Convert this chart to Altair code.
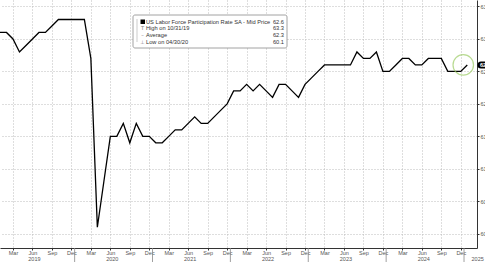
import altair as alt
import pandas as pd

# ---- data (monthly, Jan 2019 .. Jan 2025) ----
years_list = [2019, 2020, 2021, 2022, 2023, 2024, 2025]
month_names = ["Jan", "Feb", "Mar", "Apr", "May", "Jun", "Jul", "Aug", "Sep", "Oct", "Nov", "Dec"]
months = [f"{y}-{m:02d}" for y in years_list[:-1] for m in range(1, 13)] + ["2025-01"]

values = [
    63.1, 63.1, 63.0, 62.8, 62.9, 63.0, 63.1, 63.1, 63.2, 63.3, 63.3, 63.3,   # 2019
    63.3, 63.3, 62.7, 60.1, 60.8, 61.5, 61.5, 61.7, 61.4, 61.7, 61.5, 61.5,   # 2020
    61.4, 61.4, 61.5, 61.6, 61.6, 61.7, 61.8, 61.7, 61.7, 61.8, 61.9, 62.0,   # 2021
    62.2, 62.2, 62.3, 62.2, 62.3, 62.2, 62.1, 62.3, 62.3, 62.2, 62.1, 62.3,   # 2022
    62.4, 62.5, 62.6, 62.6, 62.6, 62.6, 62.6, 62.8, 62.7, 62.7, 62.8, 62.5,   # 2023
    62.5, 62.6, 62.7, 62.7, 62.6, 62.6, 62.7, 62.7, 62.7, 62.5, 62.5, 62.5,   # 2024
    62.6,                                                                     # 2025
]

y_ticks = [60.0, 60.5, 61.0, 61.5, 62.0, 62.5, 63.0, 63.5]
x_tick_months = ["Mar", "Jun", "Sep", "Dec"]
series_name = "US Labor Force Participation Rate SA - Mid Price"

# ---- derived tables ----
df = pd.DataFrame({"month": months, "idx": list(range(len(months))), "value": values})
x_tick_vals = [i for i, m in enumerate(months) if month_names[int(m[5:]) - 1] in x_tick_months]


def month_end_label(m):
    ts = pd.Timestamp(m + "-01") + pd.offsets.MonthEnd(0)
    return ts.strftime("%m/%d/%y")


imax = int(pd.Series(values).idxmax())
imin = int(pd.Series(values).idxmin())
legend_labels = [series_name, f"High on {month_end_label(months[imax])}", "Average",
                 f"Low on {month_end_label(months[imin])}"]
legend_values = [f"{values[-1]:.1f}", f"{max(values):.1f}",
                 f"{sum(values) / len(values):.1f}", f"{min(values):.1f}"]
legend_icons = ["", "T", "–", "⊥"]
legend_df = pd.DataFrame({"label": legend_labels, "val": legend_values, "icon": legend_icons,
                          "row": [0, 1, 2, 3]})

year_labels = [str(y) for y in years_list]
year_df = pd.DataFrame({"year": year_labels,
                        "idx": [months.index(f"{y}-01") + 5.3 if y < 2025 else len(months) + 0.6
                                for y in years_list]})
sep_df = pd.DataFrame({"idx": [months.index(f"{y}-01") - 0.5 for y in years_list[1:]]})
last_df = df.tail(1)

W, H = 477, 248
FONT = "Liberation Sans"

xscale = alt.Scale(domain=[0, len(months) + 0.5], nice=False, zero=False)
yscale = alt.Scale(domain=[59.78, 63.6], nice=False, zero=False)

label_expr = "[" + ",".join(f"'{m}'" for m in month_names) + "][datum.value % 12]"

x_axis = alt.Axis(values=x_tick_vals, labelExpr=label_expr, grid=True,
                  gridDash=[1, 2], gridColor="#b5b5b5", gridWidth=0.9,
                  domainColor="#333", tickColor="#333", tickSize=2,
                  labelFontSize=5.5, labelColor="#555", labelPadding=0,
                  labelFont=FONT, labelFlush=False, labelOverlap=False,
                  labelSeparation=0, title=None)
y_axis = alt.Axis(orient="right", values=y_ticks, format=".1f", grid=True,
                  gridDash=[1, 2], gridColor="#b5b5b5", gridWidth=0.9,
                  domainColor="#333", tickColor="#333", tickSize=2,
                  labelFontSize=5.5, labelColor="#555", labelPadding=1,
                  labelFont=FONT, labelOverlap=False, labelFlush=False,
                  labelSeparation=0, title=None)

xs = alt.X("idx:Q", scale=xscale, axis=x_axis, title=None)
ys = alt.Y("value:Q", scale=yscale, axis=y_axis, title=None)

line = alt.Chart(df).mark_line(color="black", strokeWidth=1.3).encode(x=xs, y=ys)

circle = alt.Chart(last_df).mark_point(shape="circle", size=420, filled=False,
                                       stroke="#9ccc65", strokeWidth=1.2, xOffset=-4).encode(
    x=xs, y=ys)

tag = alt.Chart(last_df).mark_rule(color="black", strokeWidth=7, strokeCap="round").encode(
    x=alt.value(481), x2=alt.value(495), y=ys)
tag_text = alt.Chart(last_df).mark_text(color="white", fontSize=5.5, align="left",
                                        baseline="middle", font=FONT, fontWeight="bold").encode(
    x=alt.value(480), y=ys, text=alt.Text("value:Q", format=".1f"))

years = alt.Chart(year_df).mark_text(fontSize=5.5, color="#555", baseline="middle",
                                     align="center", font=FONT).encode(
    x=xs, y=alt.value(259), text="year:N")
seps = alt.Chart(sep_df).mark_rule(color="#888", strokeWidth=0.8).encode(
    x=xs, y=alt.value(H), y2=alt.value(H + 14))

# legend box
one = pd.DataFrame({"a": [0]})
box = alt.Chart(one).mark_rect(fill="white", stroke="#8a8a8a", strokeWidth=0.8,
                               cornerRadius=2).encode(
    x=alt.value(133), x2=alt.value(287), y=alt.value(15), y2=alt.value(48))
tree = alt.Chart(one).mark_rule(color="#aaa", strokeWidth=0.6).encode(
    x=alt.value(137), y=alt.value(19), y2=alt.value(42))
square = alt.Chart(one).mark_rect(color="black").encode(
    x=alt.value(140.5), x2=alt.value(145), y=alt.value(19.5), y2=alt.value(24))

row_y = "21.7 + datum.row * 6.6"
leg_text = alt.Chart(legend_df).transform_calculate(ry=row_y).mark_text(
    fontSize=5.7, align="left", baseline="middle", color="#333", font=FONT).encode(
    x=alt.value(146), y=alt.Y("ry:Q", scale=None), text="label:N")
leg_val = alt.Chart(legend_df).transform_calculate(ry=row_y).mark_text(
    fontSize=5.7, align="right", baseline="middle", color="#333", font=FONT).encode(
    x=alt.value(284), y=alt.Y("ry:Q", scale=None), text="val:N")
leg_icon = alt.Chart(legend_df).transform_calculate(ry=row_y).mark_text(
    fontSize=5, align="center", baseline="middle", color="#777", font="DejaVu Sans").encode(
    x=alt.value(142.5), y=alt.Y("ry:Q", scale=None), text="icon:N")

chart = alt.layer(line, circle, tag, tag_text, years, seps, box, tree, square,
                  leg_icon, leg_text, leg_val).properties(
    width=W, height=H, autosize="none",
    padding={"left": 0, "top": 0, "right": 8, "bottom": 14},
    background="white",
).configure_view(stroke=None)

chart.save("out.html", embed_options={"renderer": "svg", "actions": False})
